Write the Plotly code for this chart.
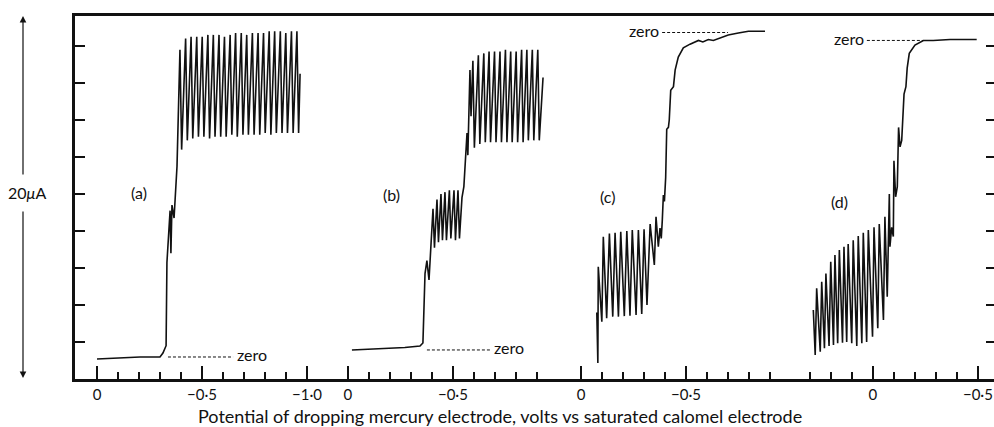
import plotly.graph_objects as go

# ---------------- data (potential in V, current in microamps) ----------------
a_V = [0.000, -0.110, -0.205, -0.300, -0.314, -0.329, -0.333, -0.348, -0.352, -0.357, -0.367, -0.381,
       -0.395, -0.403, -0.422, -0.430, -0.448, -0.456, -0.475, -0.483, -0.501, -0.509, -0.528, -0.536,
       -0.554, -0.562, -0.581, -0.589, -0.607, -0.615, -0.634, -0.642, -0.660, -0.668, -0.687, -0.695,
       -0.713, -0.721, -0.740, -0.748, -0.767, -0.775, -0.793, -0.801, -0.820, -0.828, -0.846, -0.854,
       -0.873, -0.881, -0.899, -0.907, -0.926, -0.934, -0.952, -0.960, -0.967]
a_I = [1.08, 1.15, 1.19, 1.19, 1.40, 1.80, 6.30, 9.10, 6.80, 9.40, 8.70, 11.50,
       17.8, 12.4, 18.4, 12.9, 18.5, 13.0, 18.5, 13.1, 18.5, 13.1, 18.6, 13.0,
       18.6, 13.1, 18.6, 13.1, 18.5, 13.1, 18.6, 13.2, 18.7, 13.1, 18.7, 13.2,
       18.6, 13.2, 18.7, 13.2, 18.7, 13.2, 18.7, 13.3, 18.8, 13.2, 18.8, 13.3,
       18.8, 13.3, 18.7, 13.3, 18.8, 13.3, 18.8, 13.3, 16.5]

b_V = [-0.019, -0.152, -0.271, -0.343, -0.357, -0.367, -0.376, -0.386, -0.395,
       -0.405, -0.412, -0.424, -0.431, -0.443, -0.450, -0.462, -0.469, -0.483, -0.490, -0.505, -0.512, -0.524, -0.531,
       -0.543, -0.552, -0.567, -0.571, -0.581, -0.586,
       -0.595, -0.602, -0.621, -0.628, -0.647, -0.654, -0.672, -0.679, -0.698, -0.705, -0.724, -0.731,
       -0.750, -0.757, -0.775, -0.782, -0.801, -0.808, -0.827, -0.834, -0.852, -0.859, -0.878, -0.885,
       -0.904, -0.911, -0.929]
b_I = [1.57, 1.62, 1.70, 1.78, 1.95, 5.70, 6.40, 5.35, 7.50,
       9.2, 7.1, 9.7, 7.4, 10.0, 7.5, 10.1, 7.5, 10.2, 7.6, 10.2, 7.5, 10.2, 7.6,
       9.8, 10.4, 13.3, 12.1, 16.7, 14.2,
       17.2, 12.5, 17.5, 12.7, 17.6, 12.8, 17.7, 12.8, 17.7, 12.8, 17.7, 12.8,
       17.8, 12.8, 17.7, 12.8, 17.7, 12.8, 17.8, 12.8, 17.8, 12.9, 17.8, 12.9,
       17.8, 12.9, 16.3]

c_V = [-0.075, -0.080, -0.082, -0.099, -0.106, -0.122, -0.135, -0.151, -0.162, -0.178, -0.189, -0.206,
       -0.218, -0.233, -0.244, -0.262, -0.273, -0.289, -0.300, -0.314, -0.329, -0.349, -0.357, -0.368,
       -0.376, -0.382, -0.387, -0.392, -0.397, -0.403, -0.408, -0.416, -0.420, -0.427, -0.440, -0.448,
       -0.463, -0.487, -0.519, -0.559, -0.580, -0.606, -0.630, -0.654, -0.701, -0.749, -0.797, -0.876]
c_I = [3.60, 0.86, 6.07, 3.10, 7.69, 3.28, 7.87, 3.37, 7.91, 3.37, 7.96, 3.40,
       8.00, 3.42, 8.05, 3.46, 8.05, 3.51, 8.09, 4.00, 8.38, 6.16, 8.77, 7.15,
       8.16, 7.60, 8.60, 9.95, 9.60, 10.90, 13.50, 13.60, 14.00, 15.60, 15.80, 16.70,
       17.40, 17.90, 18.10, 18.30, 18.22, 18.35, 18.30, 18.40, 18.60, 18.70, 18.80, 18.80]

d_V = [0.284, 0.275, 0.268, 0.251, 0.244, 0.231, 0.224, 0.209, 0.201, 0.188, 0.181, 0.168, 0.160,
       0.145, 0.138, 0.125, 0.118, 0.101, 0.094, 0.077, 0.070, 0.053, 0.046, 0.030, 0.022,
       0.002, -0.005, -0.023, -0.030, -0.050, -0.057, -0.068, -0.078,
       -0.081, -0.089, -0.097, -0.100, -0.108, -0.116, -0.122, -0.129, -0.137, -0.148, -0.157,
       -0.163, -0.173, -0.200, -0.240, -0.287, -0.367, -0.494]
d_I = [3.73, 1.30, 4.90, 1.48, 5.26, 1.66, 5.70, 1.78, 6.34, 1.84, 6.70, 1.93, 6.97,
       1.96, 7.15, 2.00, 7.30, 1.93, 7.50, 1.78, 7.73, 1.93, 7.90, 2.00, 8.05,
       2.29, 8.20, 2.74, 8.38, 3.19, 8.77, 4.45, 10.00,
       7.15, 8.20, 7.70, 11.80, 9.85, 10.40, 13.60, 12.55, 12.90, 15.40, 15.80,
       16.80, 17.60, 18.05, 18.30, 18.30, 18.35, 18.35]

panel_names = ["(a)", "(b)", "(c)", "(d)"]
panel_offsets = [0.0, 1.195, 2.305, 3.695]       # where each panel's 0 V sits on the shared axis
label_V = [-0.200, -0.205, -0.124, 0.157]
label_I = [10.1, 9.95, 9.84, 9.57]

zero_level = [1.19, 1.57, 18.73, 18.30]
zero_V_start = [-0.338, -0.376, -0.386, 0.029]
zero_V_end = [-0.648, -0.676, -0.700, -0.238]
zero_text_side = ["right", "right", "left", "left"]

major_V = [[0.0, -0.5, -1.0], [0.0, -0.5], [0.0, -0.5], [0.0, -0.5]]
major_text = [["0", "−0·5", "−1·0"], ["0", "−0·5"], ["0", "−0·5"], ["0", "−0·5"]]
minor_V = [[-0.1, -0.2, -0.3, -0.4, -0.6, -0.7, -0.8, -0.9],
           [-0.1, -0.2, -0.3, -0.4, -0.6, -0.7, -0.8, -0.9],
           [-0.1, -0.2, -0.3, -0.4, -0.6, -0.7, -0.8, -0.9],
           [0.3, 0.2, 0.1, -0.1, -0.2, -0.3, -0.4]]
y_ticks = [2, 4, 6, 8, 10, 12, 14, 16, 18]

FONT = "Lato"
INK = "#111"
series = [(a_V, a_I), (b_V, b_I), (c_V, c_I), (d_V, d_I)]

fig = go.Figure()
for k, (V, I) in enumerate(series):
    off = panel_offsets[k]
    fig.add_trace(go.Scatter(x=[off - v for v in V], y=I, mode="lines",
                             line=dict(color=INK, width=1.6), hoverinfo="skip"))
    fig.add_trace(go.Scatter(x=[off - zero_V_start[k], off - zero_V_end[k]],
                             y=[zero_level[k], zero_level[k]], mode="lines",
                             line=dict(color=INK, width=1, dash="3px,2px"), hoverinfo="skip"))

annotations = []
for k in range(4):
    off = panel_offsets[k]
    annotations.append(dict(x=off - label_V[k], y=label_I[k], text=panel_names[k], showarrow=False,
                            font=dict(family=FONT, size=16, color=INK)))
    if zero_text_side[k] == "right":
        annotations.append(dict(x=off - zero_V_end[k], y=zero_level[k], text="zero", showarrow=False,
                                xanchor="left", yanchor="middle", xshift=2, yshift=2,
                                font=dict(family=FONT, size=16, color=INK)))
    else:
        annotations.append(dict(x=off - zero_V_start[k], y=zero_level[k], text="zero", showarrow=False,
                                xanchor="right", yanchor="middle", xshift=-1, yshift=2,
                                font=dict(family=FONT, size=16, color=INK)))

tickvals, ticktext, minor_vals = [], [], []
for k in range(4):
    off = panel_offsets[k]
    tickvals += [off - v for v in major_V[k]]
    ticktext += major_text[k]
    minor_vals += [off - v for v in minor_V[k]]

L, T, B, R = 75, 16, 48, 0
W, H = 994, 427
px_per_unit = 210.0
x0_px = 97
x_min = (L - x0_px) / px_per_unit
x_max = (W - R - x0_px) / px_per_unit
px_per_uA = 18.5
y_max = (H - B - T) / px_per_uA

def paper_x(px):
    return (px - L) / (W - L - R)

def paper_y(py):
    return (H - B - py) / (H - B - T)

# 20 microamp scale arrow
annotations.append(dict(xref="paper", yref="paper", x=paper_x(23), y=paper_y(16), ax=0, ay=160,
                        text="", showarrow=True, arrowhead=2, arrowsize=1.1, arrowwidth=1.2, arrowcolor=INK))
annotations.append(dict(xref="paper", yref="paper", x=paper_x(23), y=paper_y(378), ax=0, ay=-168,
                        text="", showarrow=True, arrowhead=2, arrowsize=1.1, arrowwidth=1.2, arrowcolor=INK))
annotations.append(dict(xref="paper", yref="paper", x=paper_x(27), y=paper_y(192), text="20<i>μ</i>A",
                        xanchor="center", yanchor="middle",
                        showarrow=False, font=dict(family=FONT, size=16, color=INK)))
annotations.append(dict(xref="paper", yref="paper", x=paper_x(500), y=paper_y(416),
                        xanchor="center", yanchor="middle",
                        text="Potential of dropping mercury electrode, volts vs saturated calomel electrode",
                        showarrow=False, font=dict(family=FONT, size=18, color=INK)))

fig.update_layout(
    width=W, height=H, margin=dict(l=L, r=R, t=T, b=B, pad=0),
    paper_bgcolor="white", plot_bgcolor="white", showlegend=False,
    annotations=annotations,
    xaxis=dict(range=[x_min, x_max], showgrid=False, zeroline=False,
               showline=True, linecolor=INK, linewidth=3, mirror=True,
               ticks="inside", ticklen=13, tickwidth=2, tickcolor=INK,
               tickmode="array", tickvals=tickvals, ticktext=ticktext,
               tickfont=dict(family=FONT, size=15, color=INK),
               minor=dict(tickmode="array", tickvals=minor_vals, ticks="inside",
                          ticklen=7, tickwidth=1.5, tickcolor=INK, showgrid=False)),
    yaxis=dict(range=[0, y_max], showgrid=False, zeroline=False,
               showline=True, linecolor=INK, linewidth=3,
               ticks="inside", ticklen=10, tickwidth=1.5, tickcolor=INK,
               tickmode="array", tickvals=y_ticks, showticklabels=False),
    yaxis2=dict(range=[0, y_max], overlaying="y", side="right", anchor="x",
                showgrid=False, zeroline=False, showline=False,
                ticks="inside", ticklen=8, tickwidth=1.5, tickcolor=INK,
                tickmode="array", tickvals=y_ticks, showticklabels=False),
)
fig.add_trace(go.Scatter(x=[None], y=[None], yaxis="y2", showlegend=False, hoverinfo="skip"))

fig.write_html("out.html")
